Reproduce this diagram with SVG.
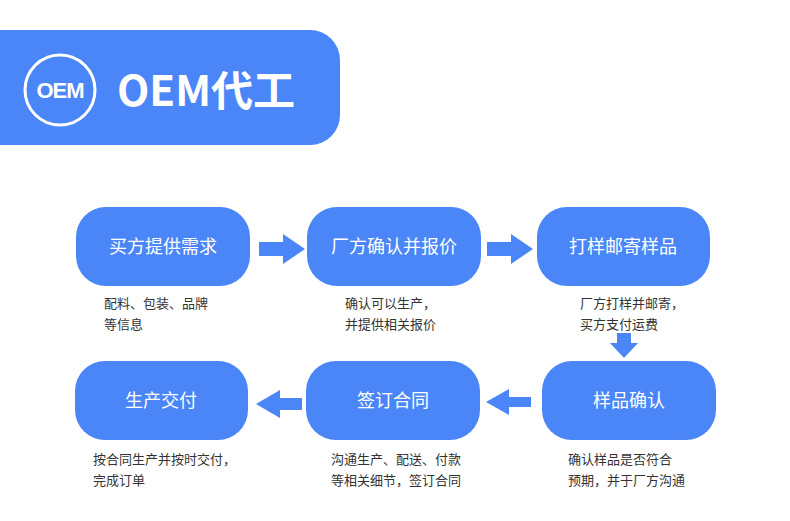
<svg xmlns="http://www.w3.org/2000/svg" width="790" height="521" viewBox="0 0 790 521">
<style>
.box{fill:#4a86f8}
.bt{font-family:"Noto Sans CJK SC","Noto Sans",sans-serif;font-size:18px;fill:#fff;text-anchor:middle}
.cap{font-family:"Noto Sans CJK SC","Noto Sans",sans-serif;font-size:13px;fill:#333}
.ar{fill:#4a86f8}
</style>
<g id="header">
<path d="M0 30 H310 A30 30 0 0 1 340 60 V115 A30 30 0 0 1 310 145 H0 Z" fill="#4a86f8"/>
<circle cx="60" cy="90" r="35" fill="none" stroke="#fff" stroke-width="3"/>
<text x="60" y="98" text-anchor="middle" font-family="Liberation Sans,sans-serif" font-weight="bold" font-size="22" fill="#fff" letter-spacing="-1">OEM</text>
<text x="117" y="106" font-family="'Noto Sans CJK SC',sans-serif" font-weight="bold" font-size="42" fill="#fff">OEM代工</text>
</g>
<g id="n1"><rect class="box" x="76" y="207" width="174" height="79" rx="30"/><text class="bt" x="163" y="253">买方提供需求</text>
<text class="cap" x="104" y="308">配料、包装、品牌</text><text class="cap" x="104" y="329">等信息</text></g>
<g id="n2"><rect class="box" x="307" y="207" width="174" height="79" rx="30"/><text class="bt" x="394" y="253">厂方确认并报价</text>
<text class="cap" x="345" y="308">确认可以生产，</text><text class="cap" x="345" y="329">并提供相关报价</text></g>
<g id="n3"><rect class="box" x="537" y="207" width="173" height="79" rx="30"/><text class="bt" x="623" y="253">打样邮寄样品</text>
<text class="cap" x="580" y="308">厂方打样并邮寄，</text><text class="cap" x="580" y="329">买方支付运费</text></g>
<g id="n4"><rect class="box" x="542" y="361" width="174" height="79" rx="30"/><text class="bt" x="629" y="407">样品确认</text>
<text class="cap" x="568" y="464">确认样品是否符合</text><text class="cap" x="568" y="485">预期，并于厂方沟通</text></g>
<g id="n5"><rect class="box" x="306" y="361" width="174" height="79" rx="30"/><text class="bt" x="393" y="407">签订合同</text>
<text class="cap" x="331" y="464">沟通生产、配送、付款</text><text class="cap" x="331" y="485">等相关细节，签订合同</text></g>
<g id="n6"><rect class="box" x="75" y="361" width="173" height="79" rx="30"/><text class="bt" x="161" y="407">生产交付</text>
<text class="cap" x="93" y="464">按合同生产并按时交付，</text><text class="cap" x="93" y="485">完成订单</text></g>
<g id="connectors">
<polygon class="ar" points="259,242 283,242 283,234 305,249 283,264 283,256 259,256"/>
<polygon class="ar" points="487,242 511,242 511,234 533,249 511,264 511,256 487,256"/>
<polygon class="ar" points="617,333 631,333 631,343 638,343 624,358 610,343 617,343"/>
<polygon class="ar" points="531,397 509,397 509,389 486,402 509,415 509,407 531,407"/>
<polygon class="ar" points="302,398 280,398 280,390 256,404 280,418 280,410 302,410"/>
</g>
</svg>
